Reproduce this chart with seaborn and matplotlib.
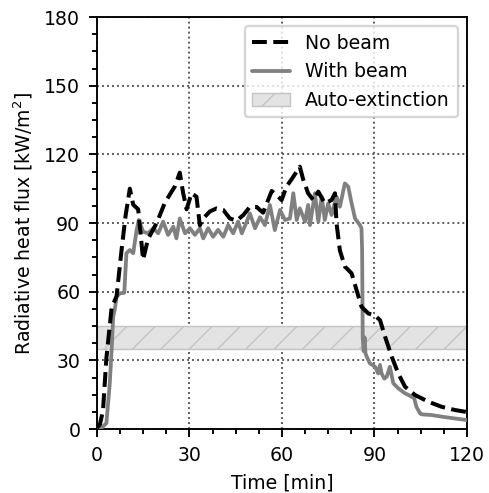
import numpy as np
import pandas as pd
import matplotlib
matplotlib.use("Agg")
import matplotlib.pyplot as plt
import seaborn as sns
from matplotlib.patches import Patch
from matplotlib.lines import Line2D
from matplotlib.ticker import MultipleLocator

# ---- data ----
t_no = [0, 1, 2, 3.1, 4.8, 6.4, 8.0, 9.3, 10.7, 11.8, 13.4, 15.0, 16.6, 19.4, 22.1,
        25.3, 26.9, 27.5, 28.0, 29.1, 30.7, 32.3, 33.4, 34.5, 36.6, 38.8, 41.0, 43.1,
        45.3, 47.5, 49.6, 51.8, 53.9, 56.7, 58.8, 59.9, 61.5, 63.1, 65.8, 66.9, 68.5,
        70.2, 71.8, 73.9, 76.1, 77.2, 77.7, 78.8, 80.4, 82.6, 84.2, 85.8, 88.0, 90.2,
        91.8, 93.4, 95.6, 97.7, 99.9, 103.1, 107.5, 111.8, 116.1, 120]
v_no = [0.5, 2, 8, 31, 53, 58, 78, 93, 105, 98, 96, 74, 83, 90, 99,
        106, 112, 107, 103, 96, 103, 101.5, 89, 92, 95, 96.4, 95.7, 92,
        91, 93.5, 97, 97, 94.5, 104, 101.5, 100, 106, 109, 114.6, 109, 103,
        100, 103.7, 98.6, 100, 103, 90, 78, 71, 68, 60.7, 53.4, 50.5, 49.5,
        47.6, 40.5, 31.6, 24.3, 18.5, 14.9, 11.9, 9.7, 8.3, 7.4]

t_with = [0, 1.5, 3.1, 4.2, 4.8, 5.3, 5.8, 6.4, 7.5, 8.9, 9.6, 10.7, 11.8, 12.9, 13.6,
          15.0, 16.6, 18.3, 19.9, 21.5, 23.1, 24.8, 25.8, 26.9, 28.6, 30.2, 31.8, 33.4,
          34.5, 36.1, 37.7, 39.3, 41.0, 42.6, 44.2, 45.8, 47.0, 48.6, 49.6, 51.3, 52.9,
          54.5, 56.1, 57.7, 59.4, 61.0, 62.6, 63.7, 64.8, 65.8, 67.5, 68.5, 69.1, 70.7,
          71.8, 72.9, 73.9, 75.0, 76.1, 77.7, 78.8, 80.4, 81.5, 82.6, 83.7, 85.3, 85.8,
          86.0, 86.2, 86.5, 86.8, 87.1, 87.5, 88.5, 90.2, 91.2, 91.8, 92.3, 93.2, 94.0,
          95.0, 96.1, 97.7, 99.9, 101.0, 102.0, 102.9, 103.6, 104.8, 105.3, 108.5,
          111.8, 116.1, 120]
v_with = [0, 0.5, 2.5, 20, 34.5, 49, 52, 57.8, 59.3, 59.5, 76.8, 78.2, 76.8, 86.9, 91.3,
          86.2, 85.5, 87.7, 85.5, 90.6, 84.8, 88.4, 83.3, 92, 85.5, 87.7, 84.8, 87.7,
          83.3, 87.7, 84, 87, 84, 89.1, 85.5, 90.6, 85.5, 90.6, 94.2, 87.7, 92.5,
          89.1, 97.9, 86.9, 95.7, 91.3, 92, 103, 91.3, 96.4, 90.6, 97.9, 89.1, 103,
          90.6, 101.5, 91.3, 98.6, 93.5, 101.5, 97.1, 107.3, 105.9, 98.6, 92, 89.1, 87.7,
          78, 40, 34, 40, 33, 31.6, 28.7, 27.2, 24.3, 28, 24.3, 22.0, 22.9,
          27.2, 20, 17.8, 15.6, 14.9, 14.1, 13.4, 9.7, 6.8, 6.4, 6.1,
          5.4, 4.6, 3.9]

band_low, band_high = 35, 45
labels = ["No beam", "With beam", "Auto-extinction"]

# ---- style ----
sns.set_style("ticks")
plt.rcParams.update({
    "font.family": ["DejaVu Sans"],
    "font.size": 8,
    "hatch.linewidth": 0.6,
    "text.color": "black",
    "axes.labelcolor": "black",
    "xtick.color": "black",
    "ytick.color": "black",
})

DPI = 170
fig = plt.figure(figsize=(489 / DPI, 493 / DPI), dpi=DPI)
ax = fig.add_axes([0.198, 0.1298, 0.757, 0.8357])

ax.axhspan(band_low, band_high, facecolor="#e3e3e3", edgecolor="#c4c4c4",
           hatch="//", linewidth=0.6, zorder=1)

df_no = pd.DataFrame({"t": t_no, "v": v_no})
df_with = pd.DataFrame({"t": t_with, "v": v_with})
sns.lineplot(data=df_with, x="t", y="v", ax=ax, color="#808080", lw=1.6,
             estimator=None, sort=False, zorder=3)
sns.lineplot(data=df_no, x="t", y="v", ax=ax, color="black", lw=1.7,
             linestyle="--", estimator=None, sort=False, zorder=4)

ax.set_xlim(0, 120)
ax.set_ylim(0, 180)
ax.xaxis.set_major_locator(MultipleLocator(30))
ax.yaxis.set_major_locator(MultipleLocator(30))
ax.xaxis.set_minor_locator(MultipleLocator(7.5))
ax.yaxis.set_minor_locator(MultipleLocator(7.5))
ax.grid(True, which="major", linestyle=":", color="#555555", linewidth=0.8, zorder=0)
ax.set_axisbelow(True)
for s in ax.spines.values():
    s.set_linewidth(0.8)
    s.set_color("black")
ax.tick_params(which="both", color="black", labelcolor="black", width=0.8)
ax.tick_params(which="major", length=3.5, labelsize=8)
ax.tick_params(which="minor", length=2)

ax.set_xlabel("Time [min]", fontsize=8)
ax.set_ylabel("Radiative heat flux [kW/m$^2$]", fontsize=8)

handles = [
    Line2D([], [], color="black", lw=1.7, linestyle="--"),
    Line2D([], [], color="#808080", lw=1.6),
    Patch(facecolor="#e3e3e3", edgecolor="#c4c4c4", hatch="//", linewidth=0.6),
]
ax.legend(handles, labels, loc="upper right", fontsize=8, frameon=True,
          fancybox=True, framealpha=0.8, edgecolor="0.8")

fig.savefig("out.png", dpi=DPI)
